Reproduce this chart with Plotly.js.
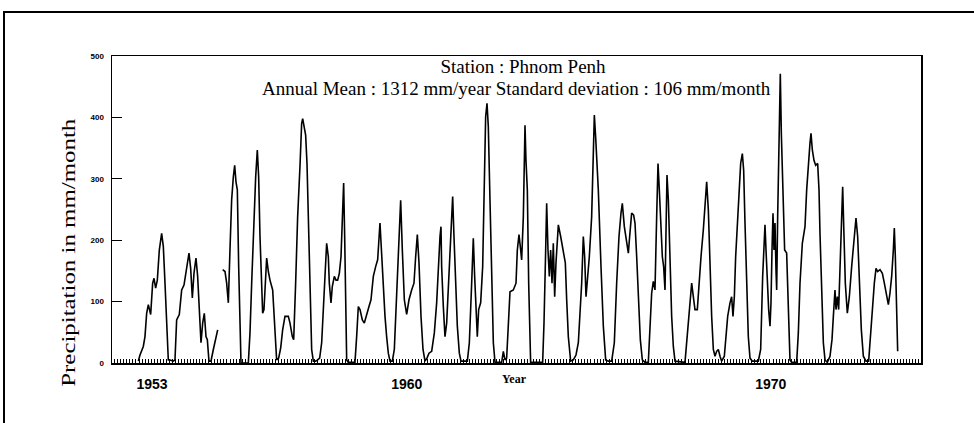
<!DOCTYPE html>
<html><head><meta charset="utf-8">
<script src="https://cdn.plot.ly/plotly-3.0.1.min.js"></script>
<style>
html,body{margin:0;padding:0;background:#fff;overflow:hidden;width:974px;height:423px}
#wrap{position:relative;width:974px;height:423px;overflow:hidden}
#chart{position:absolute;left:0;top:0;width:974px;height:423px}
#frame{position:absolute;left:3px;top:11px;width:1200px;height:600px;border-left:2.5px solid #000;border-top:2.5px solid #000;pointer-events:none}
</style>
</head><body><div id="wrap"><div id="chart"></div><div id="frame"></div></div>
<script>
// Monthly precipitation trace (decimal year, mm/month); null = data gap
const decimalYear = [
1953.064,1953.110,1953.201,1953.247,1953.293,1953.339,1953.403,1953.458,1953.495,1953.540,1953.586,1953.641,1953.705,1953.751,1953.797,1953.842,1953.888,1953.934,
1954.026,1954.071,1954.117,1954.190,1954.255,1954.319,1954.392,1954.456,1954.502,1954.548,1954.593,1954.648,1954.694,1954.740,1954.786,1954.832,1954.877,1954.923,1954.960,
1955.005,1955.060,1955.125,1955.198,1955.244,null,1955.381,1955.445,1955.491,1955.537,1955.582,1955.628,1955.674,1955.711,1955.747,1955.784,1955.821,1955.857,1955.885,
1956.086,1956.132,1956.178,1956.242,1956.288,1956.333,1956.370,1956.407,1956.452,1956.480,1956.516,1956.544,1956.590,1956.636,1956.681,1956.755,1956.819,1956.864,1956.919,1956.974,
1957.029,1957.093,1957.185,1957.231,1957.295,1957.332,1957.386,1957.441,1957.505,1957.551,1957.579,1957.625,1957.661,1957.698,1957.734,1957.780,1957.826,1957.872,1957.936,1957.991,
1958.046,1958.101,1958.147,1958.192,1958.238,1958.284,1958.311,1958.357,1958.394,1958.449,1958.495,1958.540,1958.586,1958.632,1958.678,1958.705,1958.733,1958.760,1958.788,1958.833,
1959.016,1959.062,1959.108,1959.154,1959.218,1959.273,1959.337,1959.401,1959.456,1959.520,1959.584,1959.639,1959.703,1959.749,1959.795,1959.841,1959.886,1959.932,1959.978,
1960.042,1960.097,1960.161,1960.225,1960.271,1960.317,1960.372,1960.436,1960.500,1960.573,1960.637,1960.683,1960.729,1960.775,1960.830,1960.885,1960.940,1960.994,
1961.049,1961.123,1961.196,1961.260,1961.306,1961.352,1961.379,1961.397,1961.443,1961.489,1961.535,1961.581,1961.645,1961.700,1961.736,1961.782,1961.828,1961.883,1961.929,
1962.103,1962.158,1962.222,1962.267,1962.304,1962.341,1962.377,1962.414,1962.469,1962.524,1962.570,1962.606,1962.643,1962.679,1962.725,1962.771,1962.817,1962.863,
1963.046,1963.092,1963.137,1963.183,1963.229,1963.275,1963.366,1963.440,1963.476,1963.522,1963.568,1963.595,1963.641,1963.687,1963.714,1963.751,1963.788,1963.824,1963.842,
1964.172,1964.209,1964.255,1964.282,1964.319,1964.355,1964.392,1964.429,1964.465,1964.502,1964.538,1964.575,1964.603,1964.667,1964.740,1964.795,1964.832,1964.877,1964.941,
1965.015,1965.088,1965.152,1965.198,1965.244,1965.289,1965.326,1965.363,1965.399,1965.454,1965.518,1965.564,1965.592,1965.628,1965.701,1965.775,1965.839,1965.903,1965.976,
1966.068,1966.141,1966.205,1966.269,1966.324,1966.361,1966.416,1966.480,1966.526,1966.562,1966.617,1966.672,1966.709,1966.755,1966.800,1966.855,1966.910,1966.984,
1967.075,1967.121,1967.167,1967.212,1967.258,1967.304,1967.341,1967.377,1967.414,1967.460,1967.496,1967.533,1967.560,1967.588,1967.625,1967.670,1967.716,1967.762,1967.808,
1968.082,1968.128,1968.192,1968.266,1968.311,1968.357,1968.421,1968.467,1968.522,1968.586,1968.632,1968.678,1968.724,1968.769,1968.815,1968.861,1968.907,1968.952,1968.998,
1969.044,1969.090,1969.163,1969.209,1969.255,1969.319,1969.364,1969.401,1969.438,1969.474,1969.529,1969.566,1969.612,1969.658,1969.694,1969.731,1969.777,1969.822,1969.868,1969.932,
1970.097,1970.161,1970.216,1970.253,1970.280,1970.308,1970.344,1970.381,1970.418,1970.445,1970.473,1970.500,1970.527,1970.555,1970.582,1970.601,1970.628,1970.656,1970.683,1970.701,1970.729,1970.756,1970.784,1970.820,1970.875,1970.921,1970.967,
1971.013,1971.150,1971.196,1971.242,1971.306,1971.379,1971.425,1971.471,1971.516,1971.544,1971.581,1971.626,1971.672,1971.727,1971.764,1971.791,1971.837,1971.883,1971.929,1971.993,
1972.066,1972.121,1972.158,1972.203,1972.231,1972.267,1972.304,1972.341,1972.386,1972.414,1972.451,1972.487,1972.542,1972.597,1972.661,1972.725,1972.780,1972.826,1972.872,1972.927,1972.982,
1973.055,1973.128,1973.183,1973.229,1973.284,1973.330,1973.375,1973.440,1973.504,1973.559,1973.623,1973.669,1973.714,1973.760,1973.806,1973.833,1973.861,1973.897,1973.925
];
const precipitation = [
3,13,27,43,81,95,79,130,138,122,135,184,211,190,130,65,5,5,
3,5,70,79,119,127,152,179,154,106,146,171,141,92,33,65,81,43,38,
3,3,22,43,54,null,152,149,130,98,184,266,303,322,295,282,157,38,0,
0,49,130,238,303,347,303,206,130,81,87,130,171,149,135,119,43,5,8,24,
54,76,76,65,43,38,130,238,320,390,398,379,371,325,228,130,22,3,3,5,
8,33,98,141,195,173,130,98,125,141,135,135,146,173,249,293,206,76,5,1,
1,43,92,87,70,65,81,92,103,141,157,168,228,173,130,76,43,16,3,
3,22,119,211,265,184,103,79,103,119,130,173,209,163,76,22,3,8,
16,19,49,98,157,206,222,157,92,43,65,130,206,271,206,119,60,16,3,
3,33,130,203,141,87,43,87,98,157,293,401,423,385,266,130,33,1,
1,19,5,8,65,116,119,130,184,209,184,168,238,387,330,282,130,22,1,
1,65,184,260,184,141,184,130,195,108,163,206,225,206,184,163,103,43,3,
5,13,33,81,130,206,173,108,130,173,238,347,404,368,282,157,60,5,3,
3,33,130,206,244,260,222,195,179,206,244,241,228,173,103,38,5,1,
1,54,114,133,119,238,325,282,228,173,157,119,211,306,266,163,76,27,3,
1,33,76,130,108,87,87,130,173,217,260,295,249,157,76,22,11,19,22,
11,3,11,43,76,98,108,76,108,173,238,293,325,341,314,228,130,43,8,3,
3,22,141,184,225,184,130,87,60,98,184,244,184,228,152,119,238,341,428,471,374,325,266,184,179,76,5,
1,1,49,130,195,222,282,330,358,374,347,330,322,325,282,211,103,33,5,1,
11,38,76,119,87,108,87,157,238,287,206,130,81,108,157,206,236,206,130,54,11,
3,3,49,98,130,154,149,152,146,130,108,95,114,141,184,220,173,103,19
];
const yearTickValues = [1953, 1960, 1970];
const yearTickLabels = ['1953', '1960', '1970'];
const precipTickValues = [0, 100, 200, 300, 400, 500];
const precipTickLabels = ['0', '100', '200', '300', '400', '500'];
const titleText = 'Station : Phnom Penh';
const subtitleText = 'Annual Mean : 1312 mm/year Standard deviation : 106 mm/month';
const yTitleText = 'Precipitation in mm/month';
const xTitleText = 'Year';

const serif = 'Liberation Serif, Times New Roman, serif';
const sans = 'Liberation Sans, Arial, sans-serif';

const data = [{
  type: 'scatter', mode: 'lines',
  x: decimalYear, y: precipitation,
  connectgaps: false,
  line: {color: '#000', width: 1.6},
  hoverinfo: 'skip'
}];

const layout = {
  width: 974, height: 423,
  margin: {l: 112, r: 53, t: 56, b: 60},
  paper_bgcolor: 'rgba(0,0,0,0)', plot_bgcolor: '#fff',
  showlegend: false,
  title: {
    text: titleText,
    font: {family: serif, size: 19, color: '#000'},
    xref: 'container', yref: 'container',
    x: 523 / 974, xanchor: 'center',
    y: 1 - 66 / 423, yanchor: 'middle'
  },
  xaxis: {
    range: [1952.341, 1974.566],
    tickmode: 'array', tickvals: yearTickValues, ticktext: yearTickLabels,
    ticks: 'inside', ticklen: 4, tickwidth: 1, tickcolor: '#000',
    tickfont: {family: sans, size: 14, color: '#000', weight: 'bold'},
    ticklabelshift: 16, ticklabelstandoff: 8,
    showline: true, linecolor: '#000', linewidth: 1.5, mirror: true,
    showgrid: false, zeroline: false,
    minor: {tick0: 1953, dtick: 1 / 12, ticks: 'inside', ticklen: 4, tickwidth: 1, tickcolor: '#000', showgrid: false}
  },
  yaxis: {
    range: [0, 500],
    tickmode: 'array', tickvals: precipTickValues, ticktext: precipTickLabels,
    ticks: 'inside', ticklen: 10, tickwidth: 1.2, tickcolor: '#000',
    tickfont: {family: sans, size: 8, color: '#000', weight: 'bold'},
    ticklabelstandoff: 5,
    showline: true, linecolor: '#000', linewidth: 1.5, mirror: true,
    showgrid: false, zeroline: false
  },
  annotations: [
    {text: subtitleText, xref: 'paper', yref: 'paper', x: 0.5006, y: 0.895,
     xanchor: 'center', yanchor: 'middle', showarrow: false,
     font: {family: serif, size: 19, color: '#000'}},
    {text: yTitleText, xref: 'paper', yref: 'paper', x: -0.0544, y: 0.361,
     xanchor: 'center', yanchor: 'middle', textangle: -90, showarrow: false,
     font: {family: serif, size: 19, color: '#000'}},
    {text: xTitleText, xref: 'paper', yref: 'paper', x: 0.498, y: -0.051,
     xanchor: 'center', yanchor: 'middle', showarrow: false,
     font: {family: serif, size: 12, color: '#000', weight: 'bold'}}
  ]
};

Plotly.newPlot('chart', data, layout, {staticPlot: true, displayModeBar: false}).then(function (gd) {
  gd.querySelectorAll('.annotation-text').forEach(function (t) {
    if (t.textContent.indexOf('Precipitation') === 0) {
      t.setAttribute('textLength', '268');
      t.setAttribute('lengthAdjust', 'spacingAndGlyphs');
    }
  });
});
</script>
</body></html>
